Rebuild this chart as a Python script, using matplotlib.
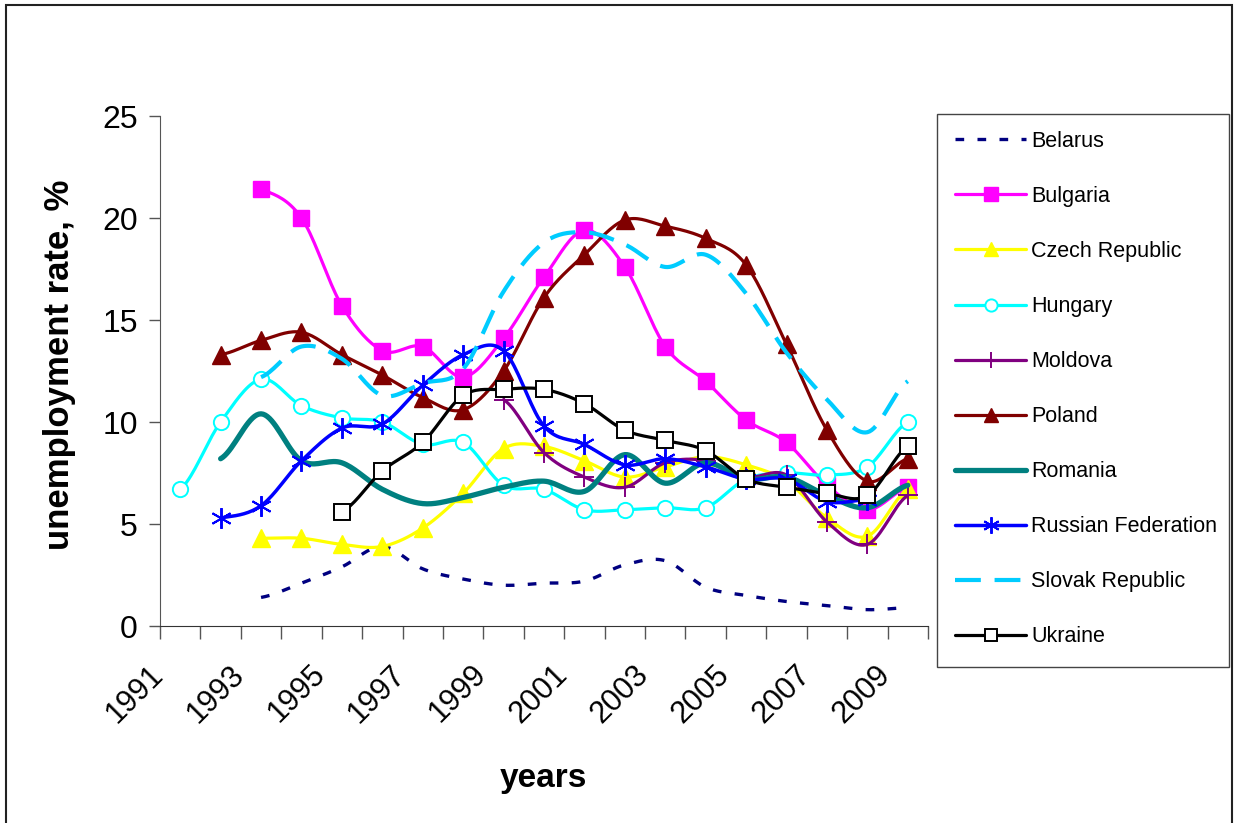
import numpy as np
import matplotlib
matplotlib.use("Agg")
from matplotlib import pyplot as plt
from matplotlib.patches import Rectangle
from matplotlib.lines import Line2D
from matplotlib.transforms import ScaledTranslation

plt.rcParams['font.family'] = ['Liberation Sans', 'DejaVu Sans']

years = list(range(1991, 2010))
n = np.nan

belarus = [n, n, 1.4, 2.1, 2.9, 3.9, 2.8, 2.3, 2.0, 2.1, 2.2, 3.0, 3.2, 1.9, 1.5, 1.2, 1.0, 0.8, 0.9]
bulgaria = [n, n, 21.4, 20.0, 15.7, 13.5, 13.7, 12.2, 14.1, 17.1, 19.4, 17.6, 13.7, 12.0, 10.1, 9.0, 6.9, 5.7, 6.8]
czech = [n, n, 4.3, 4.3, 4.0, 3.9, 4.8, 6.5, 8.7, 8.8, 8.1, 7.3, 7.8, 8.3, 7.9, 7.1, 5.3, 4.4, 6.7]
hungary = [6.7, 10.0, 12.1, 10.8, 10.2, 10.0, 8.9, 9.0, 6.9, 6.7, 5.7, 5.7, 5.8, 5.8, 7.2, 7.5, 7.4, 7.8, 10.0]
moldova = [n, n, n, n, n, n, n, n, 11.1, 8.5, 7.3, 6.8, 8.0, 8.1, 7.3, 7.4, 5.1, 4.0, 6.4]
poland = [n, 13.3, 14.0, 14.4, 13.3, 12.3, 11.2, 10.6, 12.5, 16.1, 18.2, 19.9, 19.6, 19.0, 17.7, 13.8, 9.6, 7.1, 8.2]
romania = [n, 8.2, 10.4, 8.1, 8.0, 6.7, 6.0, 6.3, 6.8, 7.1, 6.6, 8.4, 7.0, 8.0, 7.2, 7.3, 6.4, 5.8, 6.9]
russia = [n, 5.3, 5.9, 8.1, 9.7, 9.9, 11.8, 13.3, 13.5, 9.8, 8.9, 7.9, 8.2, 7.8, 7.2, 7.2, 6.1, 6.2, n]
slovak = [n, n, 12.2, 13.7, 13.1, 11.3, 11.9, 12.6, 16.4, 18.8, 19.3, 18.7, 17.6, 18.2, 16.3, 13.4, 11.1, 9.5, 12.0]
ukraine = [n, n, n, n, 5.6, 7.6, 9.0, 11.3, 11.6, 11.6, 10.9, 9.6, 9.1, 8.6, 7.2, 6.8, 6.5, 6.4, 8.8]

names = ['Belarus', 'Bulgaria', 'Czech Republic', 'Hungary', 'Moldova', 'Poland',
         'Romania', 'Russian Federation', 'Slovak Republic', 'Ukraine']
series = [belarus, bulgaria, czech, hungary, moldova, poland, romania, russia, slovak, ukraine]

star = (6, 2, 0)
styles = [
    dict(color='#000080', lw=2.4, ls=(0, (2.6, 4.0)), marker=None, dash_capstyle='butt'),
    dict(color='#FF00FF', lw=2.3, marker='s', ms=12, mfc='#FF00FF', mec='#FF00FF'),
    dict(color='#FFFF00', lw=2.3, marker='^', ms=13, mfc='#FFFF00', mec='#FFFF00'),
    dict(color='#00FFFF', lw=2.3, marker='o', ms=11, mfc='white', mec='#00FFFF', mew=1.4),
    dict(color='#800080', lw=2.3, marker='+', ms=14, mec='#800080', mew=1.4),
    dict(color='#800000', lw=2.3, marker='^', ms=13, mfc='#800000', mec='#800000'),
    dict(color='#008080', lw=3.8, marker=None),
    dict(color='#0000FF', lw=2.5, marker=star, ms=15, mec='#0000FF', mew=1.4),
    dict(color='#00CCFF', lw=3.0, ls=(0, (6.2, 3.3)), marker=None, dash_capstyle='butt'),
    dict(color='black', lw=2.3, marker='s', ms=11, mfc='white', mec='black', mew=1.4),
]


def smooth(x, y, steps=20):
    # catmull-rom style smoothing similar to Excel's smoothed lines
    x = np.asarray(x, float)
    y = np.asarray(y, float)
    px = np.concatenate([[2 * x[0] - x[1]], x, [2 * x[-1] - x[-2]]])
    py = np.concatenate([[y[0]], y, [y[-1]]])
    xs, ys = [], []
    t = np.linspace(0, 1, steps)
    for i in range(1, len(px) - 2):
        p0, p1, p2, p3 = px[i - 1], px[i], px[i + 1], px[i + 2]
        q0, q1, q2, q3 = py[i - 1], py[i], py[i + 1], py[i + 2]
        c1x, c1y = p1 + (p2 - p0) / 6, q1 + (q2 - q0) / 6
        c2x, c2y = p2 - (p3 - p1) / 6, q2 - (q3 - q1) / 6
        bx = (1 - t) ** 3 * p1 + 3 * (1 - t) ** 2 * t * c1x + 3 * (1 - t) * t ** 2 * c2x + t ** 3 * p2
        by = (1 - t) ** 3 * q1 + 3 * (1 - t) ** 2 * t * c1y + 3 * (1 - t) * t ** 2 * c2y + t ** 3 * q2
        xs.extend(bx)
        ys.extend(by)
    return np.array(xs), np.array(ys)


fig = plt.figure(figsize=(12.36, 8.23), dpi=100)
ax = fig.add_axes([160 / 1236, 1 - 626 / 823, 768 / 1236, 510 / 823])

xpos = np.arange(len(years))
handles = []
for name, vals, st in zip(names, series, styles):
    v = np.array(vals, float)
    ok = ~np.isnan(v)
    sx, sy = smooth(xpos[ok], v[ok])
    line_kw = dict(color=st['color'], lw=st['lw'], ls=st.get('ls', '-'), solid_capstyle='round')
    if 'dash_capstyle' in st:
        line_kw['dash_capstyle'] = st['dash_capstyle']
    ax.plot(sx, sy, **line_kw)
    mk = {}
    if st['marker'] is not None:
        mk = dict(marker=st['marker'], ms=st['ms'], mec=st['mec'],
                  mfc=st.get('mfc', 'none'), mew=st.get('mew', 1.0))
        ax.plot(xpos[ok], v[ok], ls='none', **mk)
    handles.append(Line2D([], [], **line_kw, **mk))

ax.set_xlim(-0.5, len(years) - 0.5)
ax.set_ylim(0, 25)
ax.set_yticks([0, 5, 10, 15, 20, 25])
ax.tick_params(axis='y', labelsize=23, length=8, width=1, color='#555555', pad=8)

ax.set_xticks(np.arange(len(years) + 1) - 0.5)
ax.set_xticklabels([])
ax.tick_params(axis='x', which='major', length=9, width=1, color='#555555')
ax.set_xticks(xpos[::2], minor=True)
ax.set_xticklabels([str(y) for y in years[::2]], minor=True, rotation=45,
                   ha='right', va='top', rotation_mode='anchor', fontsize=22)
ax.tick_params(axis='x', which='minor', length=0, pad=24)
for lbl in ax.get_xticklabels(minor=True):
    lbl.set_transform(lbl.get_transform() + ScaledTranslation(-0.32, 0, fig.dpi_scale_trans))

for s in ['top', 'right']:
    ax.spines[s].set_visible(False)
ax.spines['left'].set_color('#555555')
ax.spines['bottom'].set_color('#333333')

fig.text(60 / 1236, 1 - 365 / 823, 'unemployment rate, %', rotation=90, fontsize=25,
         fontweight='bold', ha='center', va='center')
fig.text(543 / 1236, 1 - 778 / 823, 'years', fontsize=24, fontweight='bold',
         ha='center', va='center')

# legend box
fig.patches.append(Rectangle((937 / 1236, 1 - 667 / 823), 292 / 1236, 553 / 823,
                             transform=fig.transFigure, fill=False, edgecolor='#444444', lw=1))
fig.legend(handles, names, loc='upper left', bbox_to_anchor=(955 / 1236, 1 - 131 / 823),
           frameon=False, fontsize=15.5, handlelength=3.3, handletextpad=0.25,
           labelspacing=1.58, borderaxespad=0, borderpad=0, markerscale=0.8)

# outer border
fig.patches.append(Rectangle((6 / 1236, -0.05), 1226 / 1236, 1.05 - 5 / 823,
                             transform=fig.transFigure, fill=False, edgecolor='#222222', lw=1.5))

fig.savefig('out.png', dpi=100)
